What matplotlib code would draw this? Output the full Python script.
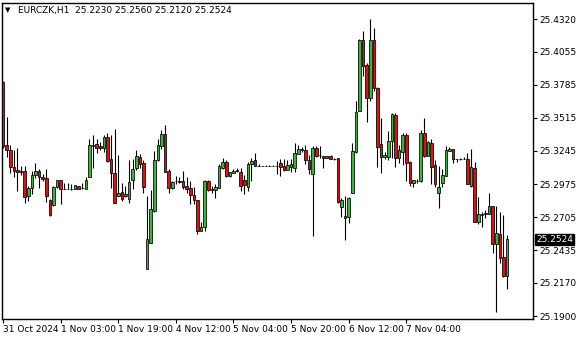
import matplotlib
matplotlib.use("Agg")
import matplotlib.pyplot as plt
from matplotlib.patches import Rectangle

symbol = "EURCZK,H1"
last_ohlc = ["25.2230", "25.2560", "25.2120", "25.2524"]

opens = [25.3809, 25.3293, 25.3253, 25.3114, 25.3090, 25.3082, 25.3082, 25.2878, 25.2943, 25.3049,
         25.3082, 25.3033, 25.3024, 25.2845, 25.2804, 25.2951, 25.3008, 25.2935, 25.2935, 25.2935,
         25.2935, 25.2959, 25.2943, 25.2935, 25.3033, 25.3289, 25.3301, 25.3285, 25.3269, 25.3358,
         25.3179, 25.3065, 25.2878, 25.2910, 25.2880, 25.2853, 25.3008, 25.3106, 25.3195, 25.3147,
         25.2283, 25.2495, 25.2755, 25.3171, 25.3285, 25.3383, 25.3082, 25.2943, 25.3000, 25.3000,
         25.3000, 25.2959, 25.2943, 25.2886, 25.2845, 25.2593, 25.2625, 25.3000, 25.2927, 25.2927,
         25.2943, 25.3106, 25.3155, 25.3041, 25.3065, 25.3082, 25.3073, 25.3008, 25.2951, 25.3139,
         25.3171, 25.3122, 25.3122, 25.3125, 25.3125, 25.3125, 25.3125, 25.3144, 25.3122, 25.3090,
         25.3111, 25.3103, 25.3220, 25.3258, 25.3253, 25.3171, 25.3054, 25.3269, 25.3209, 25.3204,
         25.3185, 25.3204, 25.3180, 25.3185, 25.2786, 25.2696, 25.2709, 25.2905, 25.3239, 25.3570,
         25.4149, 25.3945, 25.3679, 25.4149, 25.3755, 25.3301, 25.3198, 25.3193, 25.3326, 25.3538,
         25.3190, 25.3239, 25.3375, 25.3157, 25.2986, 25.3000, 25.3002, 25.3389, 25.3206, 25.3307,
         25.3130, 25.2900, 25.2981, 25.3043, 25.3247, 25.3261, 25.3177, 25.3177, 25.3179, 25.3179,
         25.2962, 25.3103, 25.2668, 25.2723, 25.2731, 25.2728, 25.2796, 25.2489, 25.2568, 25.2383,
         25.2230]
highs = [25.3815, 25.3521, 25.3293, 25.3253, 25.3269, 25.3122, 25.3122, 25.2959, 25.3082, 25.3147,
         25.3098, 25.3057, 25.3098, 25.2853, 25.2959, 25.3008, 25.3008, 25.2984, 25.2984, 25.2976,
         25.2967, 25.2959, 25.2984, 25.3033, 25.3342, 25.3375, 25.3342, 25.3318, 25.3375, 25.3391,
         25.3375, 25.3424, 25.3212, 25.2984, 25.2960, 25.3171, 25.3179, 25.3253, 25.3220, 25.3171,
         25.2878, 25.2927, 25.3244, 25.3342, 25.3416, 25.3456, 25.3098, 25.3000, 25.3041, 25.3035,
         25.3082, 25.3033, 25.3000, 25.2951, 25.2845, 25.2666, 25.3008, 25.3008, 25.2960, 25.2976,
         25.3139, 25.3187, 25.3171, 25.3076, 25.3098, 25.3106, 25.3106, 25.3049, 25.3155, 25.3187,
         25.3228, 25.3139, 25.3125, 25.3128, 25.3128, 25.3128, 25.3165, 25.3177, 25.3179, 25.3171,
         25.3182, 25.3312, 25.3293, 25.3280, 25.3293, 25.3212, 25.3285, 25.3288, 25.3285, 25.3204,
         25.3204, 25.3209, 25.3190, 25.3190, 25.2859, 25.2878, 25.2867, 25.3307, 25.3652, 25.4155,
         25.4225, 25.3964, 25.4318, 25.4244, 25.3763, 25.3516, 25.3240, 25.3407, 25.3552, 25.3552,
         25.3293, 25.3394, 25.3394, 25.3165, 25.3008, 25.3020, 25.3416, 25.3516, 25.3326, 25.3342,
         25.3171, 25.3122, 25.3098, 25.3285, 25.3275, 25.3261, 25.3177, 25.3185, 25.3193, 25.3231,
         25.3261, 25.3157, 25.2872, 25.2750, 25.2760, 25.2905, 25.2796, 25.2799, 25.2750, 25.2723,
         25.2560]
lows = [25.3269, 25.3195, 25.3065, 25.3033, 25.2918, 25.3049, 25.2821, 25.2837, 25.2894, 25.3024,
        25.2943, 25.3000, 25.2829, 25.2715, 25.2796, 25.2943, 25.2812, 25.2933, 25.2935, 25.2927,
        25.2935, 25.2935, 25.2935, 25.2935, 25.3033, 25.3106, 25.3228, 25.3253, 25.3236, 25.3155,
        25.2943, 25.2821, 25.2878, 25.2837, 25.2870, 25.2821, 25.2935, 25.3090, 25.3106, 25.2902,
        25.2283, 25.2495, 25.2747, 25.3163, 25.3261, 25.3073, 25.2902, 25.2935, 25.2976, 25.2980,
        25.2935, 25.2902, 25.2812, 25.2812, 25.2568, 25.2593, 25.2593, 25.2918, 25.2900, 25.2861,
        25.2943, 25.3098, 25.3033, 25.3035, 25.3065, 25.3070, 25.2918, 25.2894, 25.2918, 25.3000,
        25.3122, 25.3122, 25.3122, 25.3122, 25.3122, 25.3122, 25.3057, 25.3043, 25.3084, 25.3090,
        25.3076, 25.3076, 25.3220, 25.3240, 25.3139, 25.3057, 25.2552, 25.3198, 25.3185, 25.3108,
        25.3185, 25.3177, 25.3170, 25.2823, 25.2704, 25.2519, 25.2660, 25.2905, 25.3226, 25.3570,
        25.3856, 25.3483, 25.3652, 25.3733, 25.3111, 25.3063, 25.3180, 25.3171, 25.3190, 25.3116,
        25.3144, 25.3130, 25.3002, 25.2959, 25.2953, 25.2985, 25.2994, 25.3198, 25.3204, 25.2973,
        25.2953, 25.2777, 25.2949, 25.3043, 25.3247, 25.3149, 25.3157, 25.3170, 25.3179, 25.2973,
        25.2953, 25.2663, 25.2647, 25.2627, 25.2700, 25.2728, 25.2416, 25.1935, 25.2334, 25.2220,
        25.2120]
closes = [25.3285, 25.3253, 25.3114, 25.3082, 25.3073, 25.3075, 25.2869, 25.2943, 25.3049, 25.3082,
          25.3033, 25.3016, 25.2878, 25.2723, 25.2951, 25.3008, 25.2935, 25.2935, 25.2935, 25.2935,
          25.2967, 25.2935, 25.2943, 25.3008, 25.3293, 25.3297, 25.3269, 25.3269, 25.3358, 25.3163,
          25.3065, 25.2821, 25.2902, 25.2853, 25.2894, 25.2992, 25.3098, 25.3204, 25.3139, 25.2951,
          25.2527, 25.2772, 25.3171, 25.3293, 25.3383, 25.3073, 25.2943, 25.2992, 25.2998, 25.2995,
          25.2951, 25.2935, 25.2886, 25.2845, 25.2593, 25.2625, 25.3000, 25.2927, 25.2935, 25.2951,
          25.3122, 25.3155, 25.3041, 25.3073, 25.3082, 25.3090, 25.2959, 25.2967, 25.3139, 25.3163,
          25.3122, 25.3122, 25.3122, 25.3125, 25.3125, 25.3125, 25.3125, 25.3117, 25.3090, 25.3128,
          25.3139, 25.3226, 25.3258, 25.3250, 25.3171, 25.3095, 25.3269, 25.3206, 25.3209, 25.3185,
          25.3204, 25.3177, 25.3180, 25.2831, 25.2843, 25.2715, 25.2859, 25.3244, 25.3560, 25.4149,
          25.3937, 25.3679, 25.4149, 25.3755, 25.3275, 25.3198, 25.3210, 25.3326, 25.3546, 25.3190,
          25.3253, 25.3375, 25.3149, 25.2981, 25.3008, 25.3004, 25.3389, 25.3204, 25.3315, 25.3117,
          25.2973, 25.2949, 25.3049, 25.3253, 25.3261, 25.3177, 25.3177, 25.3177, 25.3179, 25.2973,
          25.3111, 25.2668, 25.2728, 25.2731, 25.2740, 25.2796, 25.2484, 25.2574, 25.2375, 25.2228,
          25.2524]

time_labels = ["31 Oct 2024", "1 Nov 03:00", "1 Nov 19:00", "4 Nov 12:00",
               "5 Nov 04:00", "5 Nov 20:00", "6 Nov 12:00", "7 Nov 04:00"]
time_label_bars = [0, 16, 32, 48, 64, 80, 96, 112]
price_ticks = [25.4320, 25.4055, 25.3785, 25.3515, 25.3245,
               25.2975, 25.2705, 25.2435, 25.2170, 25.1900]
price_tick_labels = ["25.4320", "25.4055", "25.3785", "25.3515", "25.3245",
                     "25.2975", "25.2705", "25.2435", "25.2170", "25.1900"]

BULL = "#3cb43c"
BEAR = "#e01010"

W, H = 580, 340
fig = plt.figure(figsize=(W / 100, H / 100), dpi=100)
fig.patch.set_facecolor("white")
ax = fig.add_axes([2 / W, 21 / H, 531 / W, 316 / H])
ax.set_facecolor("white")

body_w = 0.72
n = min(len(opens), len(highs), len(lows), len(closes))
for i in range(n):
    o, h, l, c = opens[i], highs[i], lows[i], closes[i]
    ax.vlines(i, l, h, color="black", linewidth=0.8, zorder=2)
    bottom = min(o, c)
    height = abs(c - o)
    face = BULL if c >= o else BEAR
    ax.add_patch(Rectangle((i - body_w / 2, bottom), body_w, height,
                           facecolor=face, edgecolor="black", linewidth=0.55,
                           zorder=3))

ax.set_xlim(-0.28, 147.2)
ax.set_ylim(25.18756, 25.44504)

for s in ax.spines.values():
    s.set_color("black")
    s.set_linewidth(1.0)

ax.yaxis.tick_right()
ax.set_yticks(price_ticks)
ax.set_yticklabels(price_tick_labels)
ax.tick_params(axis="y", direction="out", length=3, width=0.8, pad=1.5,
               labelsize=6.5, colors="black")

ax.set_xticks(time_label_bars)
ax.set_xticklabels(time_labels)
ax.tick_params(axis="x", direction="out", length=3, width=0.8, pad=1.5,
               labelsize=6.5, colors="black")
for lab in ax.get_xticklabels():
    lab.set_horizontalalignment("left")

# current price marker
ax.text(1.006, float(last_ohlc[3]), last_ohlc[3], transform=ax.get_yaxis_transform(),
        ha="left", va="center", fontsize=6.5, color="white",
        bbox=dict(facecolor="black", edgecolor="black", boxstyle="square,pad=0.15"),
        zorder=10, clip_on=False)

# header
fig.text(5 / W, 1 - 10 / H, "\u25BC", fontsize=5, ha="left", va="center", color="black")
fig.text(18 / W, 1 - 10 / H, symbol + "  " + " ".join(last_ohlc),
         fontsize=6.5, ha="left", va="center", color="black")

fig.savefig("out.png", dpi=100)
